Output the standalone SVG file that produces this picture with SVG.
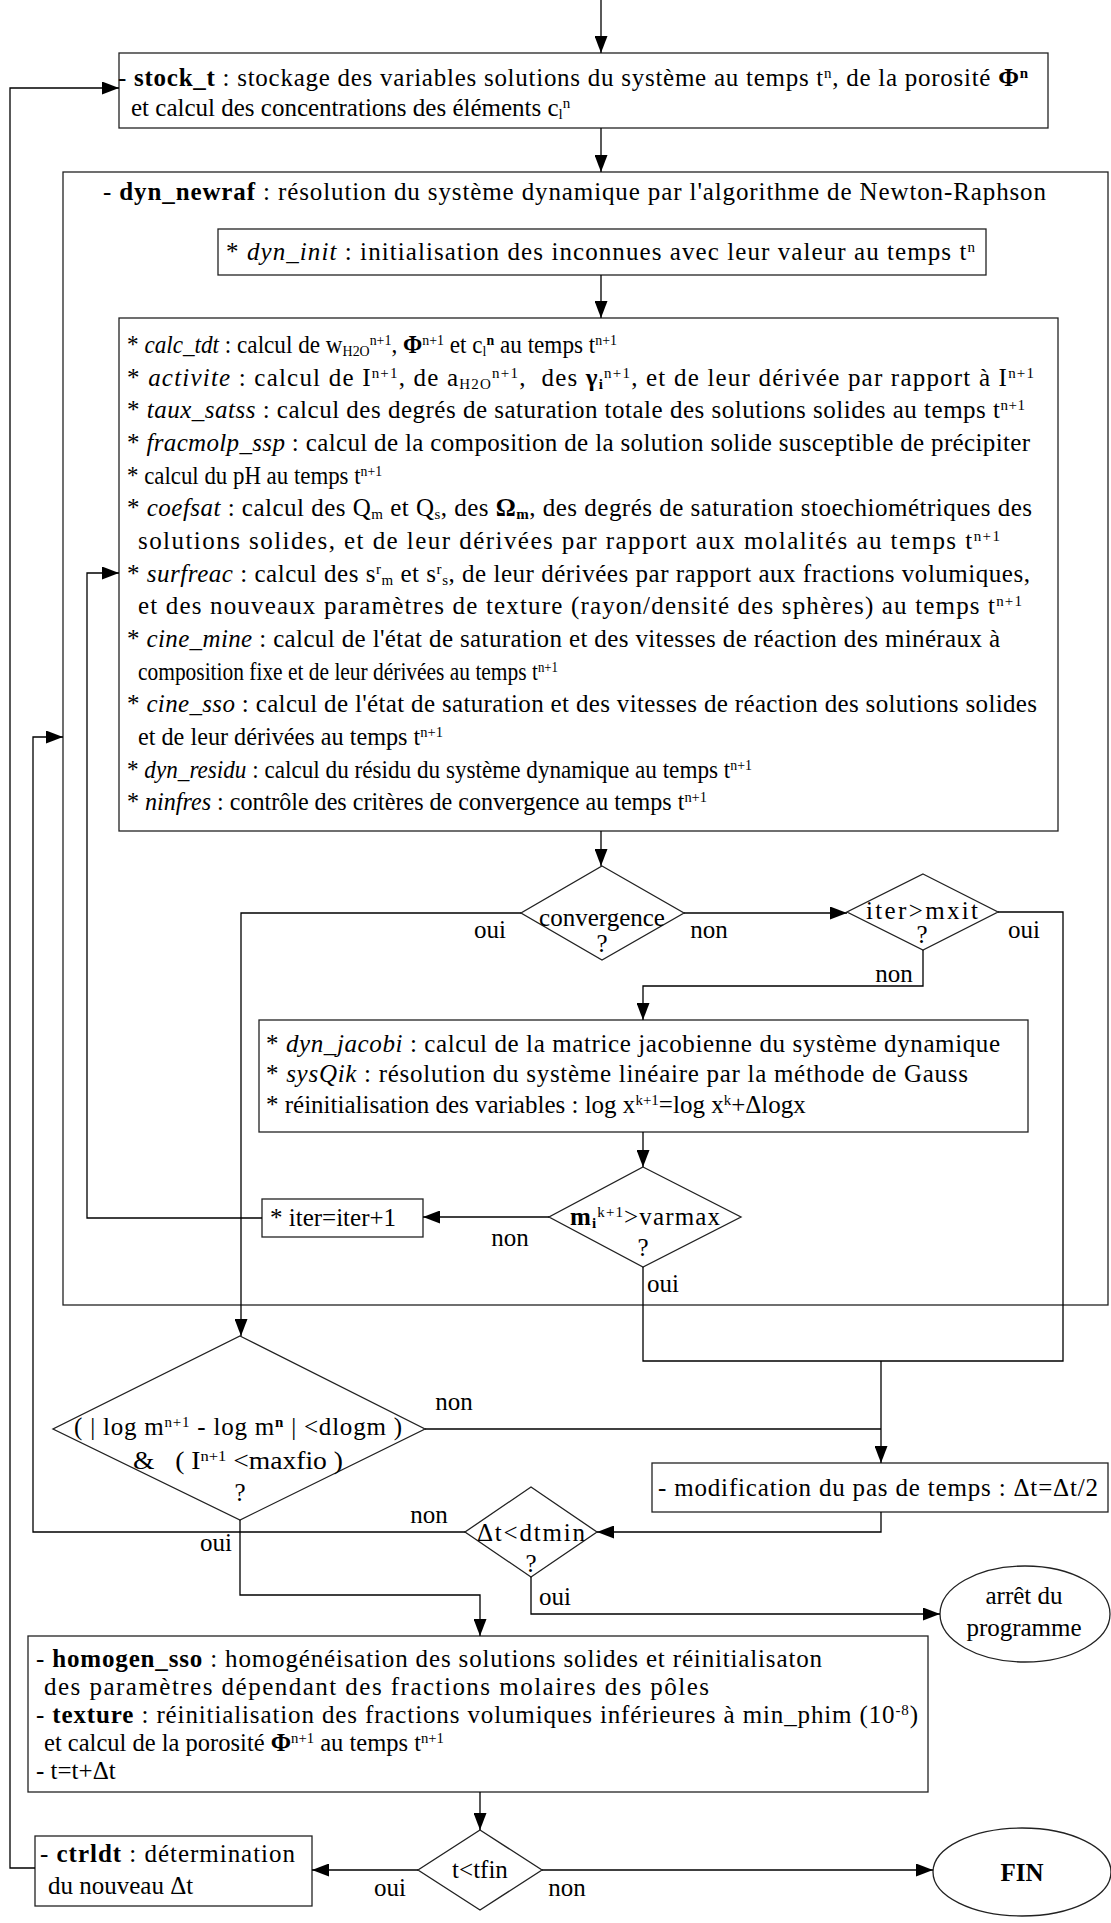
<svg xmlns="http://www.w3.org/2000/svg" width="1111" height="1923" viewBox="0 0 1111 1923">
<style>
text { font-family: "Liberation Serif", "Times New Roman", serif; font-size: 25px; fill: #000; }
.b { font-weight: bold; }
.i { font-style: italic; }
.m { text-anchor: middle; }
.sup { font-size: 15px; baseline-shift: 8px; }
.sub { font-size: 15px; baseline-shift: -3px; }
.box { fill: #fff; stroke: #222; stroke-width: 1.3; }
.ln { fill: none; stroke: #000; stroke-width: 1.3; }
</style>
<defs>
<marker id="ah" markerWidth="17" markerHeight="13" refX="17" refY="6.5" orient="auto" markerUnits="userSpaceOnUse"><path d="M0,0 L17,6.5 L0,13 z" fill="#000"/></marker>
</defs>
<rect width="1111" height="1923" fill="#fff"/>

<g id="n-dyn_newraf">
<rect class="box" x="63" y="172" width="1045" height="1133"/>
<text x="103" y="200" textLength="943" lengthAdjust="spacing">- <tspan class="b">dyn_newraf</tspan> : résolution du système dynamique par l'algorithme de Newton-Raphson</text>
</g>

<g id="n-stock_t">
<rect class="box" x="119" y="53" width="929" height="75"/>
<text x="118" y="86" textLength="910" lengthAdjust="spacing">- <tspan class="b">stock_t</tspan> : stockage des variables solutions du système au temps t<tspan class="sup">n</tspan>, de la porosité <tspan class="b">Φ</tspan><tspan class="sup b">n</tspan></text>
<text x="131" y="116">et calcul des concentrations des éléments c<tspan class="sub">l</tspan><tspan class="sup">n</tspan></text>
</g>

<g id="n-dyn_init">
<rect class="box" x="218" y="229" width="768" height="46"/>
<text x="226" y="260" textLength="749" lengthAdjust="spacing">* <tspan class="i">dyn_init</tspan> : initialisation des inconnues avec leur valeur au temps t<tspan class="sup">n</tspan></text>
</g>

<g id="n-calc">
<rect class="box" x="119" y="318" width="939" height="513"/>
<text x="127" y="353" textLength="490" lengthAdjust="spacingAndGlyphs">* <tspan class="i">calc_tdt</tspan> : calcul de w<tspan class="sub">H2O</tspan><tspan class="sup">n+1</tspan>, <tspan class="b">Φ</tspan><tspan class="sup">n+1</tspan> et c<tspan class="sub">l</tspan><tspan class="sup b">n</tspan> au temps t<tspan class="sup">n+1</tspan></text>
<text x="127" y="386" textLength="907" lengthAdjust="spacing">* <tspan class="i">activite</tspan> : calcul de I<tspan class="sup">n+1</tspan>, de a<tspan class="sub">H2O</tspan><tspan class="sup">n+1</tspan>, &#160;des <tspan class="b">γ</tspan><tspan class="sub b">i</tspan><tspan class="sup">n+1</tspan>, et de leur dérivée par rapport à I<tspan class="sup">n+1</tspan></text>
<text x="127" y="418" textLength="898" lengthAdjust="spacing">* <tspan class="i">taux_satss</tspan> : calcul des degrés de saturation totale des solutions solides au temps t<tspan class="sup">n+1</tspan></text>
<text x="127" y="451" textLength="903" lengthAdjust="spacing">* <tspan class="i">fracmolp_ssp</tspan> : calcul de la composition de la solution solide susceptible de précipiter</text>
<text x="127" y="484" textLength="255" lengthAdjust="spacingAndGlyphs">* calcul du pH au temps t<tspan class="sup">n+1</tspan></text>
<text x="127" y="516" textLength="905" lengthAdjust="spacing">* <tspan class="i">coefsat</tspan> : calcul des Q<tspan class="sub">m</tspan> et Q<tspan class="sub">s</tspan>, des <tspan class="b">Ω</tspan><tspan class="sub b">m</tspan>, des degrés de saturation stoechiométriques des</text>
<text x="138" y="549" textLength="862" lengthAdjust="spacing">solutions solides, et de leur dérivées par rapport aux molalités au temps t<tspan class="sup">n+1</tspan></text>
<text x="127" y="582" textLength="903" lengthAdjust="spacing">* <tspan class="i">surfreac</tspan> : calcul des s<tspan class="sup">r</tspan><tspan class="sub">m</tspan> et s<tspan class="sup">r</tspan><tspan class="sub">s</tspan>, de leur dérivées par rapport aux fractions volumiques,</text>
<text x="138" y="614" textLength="884" lengthAdjust="spacing">et des nouveaux paramètres de texture (rayon/densité des sphères) au temps t<tspan class="sup">n+1</tspan></text>
<text x="127" y="647" textLength="873" lengthAdjust="spacing">* <tspan class="i">cine_mine</tspan> : calcul de l'état de saturation et des vitesses de réaction des minéraux à</text>
<text x="138" y="680" textLength="420" lengthAdjust="spacingAndGlyphs">composition fixe et de leur dérivées au temps t<tspan class="sup">n+1</tspan></text>
<text x="127" y="712" textLength="910" lengthAdjust="spacing">* <tspan class="i">cine_sso</tspan> : calcul de l'état de saturation et des vitesses de réaction des solutions solides</text>
<text x="138" y="745" textLength="305" lengthAdjust="spacingAndGlyphs">et de leur dérivées au temps t<tspan class="sup">n+1</tspan></text>
<text x="127" y="778" textLength="625" lengthAdjust="spacingAndGlyphs">* <tspan class="i">dyn_residu</tspan> : calcul du résidu du système dynamique au temps t<tspan class="sup">n+1</tspan></text>
<text x="127" y="810" textLength="580" lengthAdjust="spacingAndGlyphs">* <tspan class="i">ninfres</tspan> : contrôle des critères de convergence au temps t<tspan class="sup">n+1</tspan></text>
</g>

<g id="n-convergence">
<polygon class="box" points="602,866 684,913 602,960 521,913"/>
<text class="m" x="602" y="926">convergence</text>
<text class="m" x="602" y="952">?</text>
</g>

<g id="n-itermax">
<polygon class="box" points="923,874 998,912 923,950 847,912"/>
<text class="m" x="922" y="919" textLength="112" lengthAdjust="spacing">iter&gt;mxit</text>
<text class="m" x="922" y="943">?</text>
</g>

<g id="n-dyn_jacobi">
<rect class="box" x="259" y="1020" width="769" height="112"/>
<text x="266" y="1052" textLength="734" lengthAdjust="spacing">* <tspan class="i">dyn_jacobi</tspan> : calcul de la matrice jacobienne du système dynamique</text>
<text x="266" y="1082" textLength="702" lengthAdjust="spacing">* <tspan class="i">sysQik</tspan> : résolution du système linéaire par la méthode de Gauss</text>
<text x="266" y="1113">* réinitialisation des variables : log x<tspan class="sup">k+1</tspan>=log x<tspan class="sup">k</tspan>+Δlogx</text>
</g>

<g id="n-varmax">
<polygon class="box" points="643,1167 741,1217 643,1267 549,1217"/>
<text class="m" x="645" y="1225" textLength="150" lengthAdjust="spacing"><tspan class="b">m</tspan><tspan class="sub b">i</tspan><tspan class="sup">k+1</tspan>&gt;varmax</text>
<text class="m" x="643" y="1256">?</text>
</g>

<g id="n-iter">
<rect class="box" x="262" y="1199" width="161" height="38"/>
<text x="270" y="1226">* iter=iter+1</text>
</g>

<g id="n-dlogm">
<polygon class="box" points="240,1336 425,1429 240,1520 53,1429"/>
<text class="m" x="238" y="1435" textLength="328" lengthAdjust="spacing">( | log m<tspan class="sup">n+1</tspan> - log m<tspan class="sup b">n</tspan> | &lt;dlogm )</text>
<text class="m" x="238" y="1469" textLength="210" lengthAdjust="spacingAndGlyphs">&amp; &#160;&#160;( I<tspan class="sup">n+1</tspan> &lt;maxfio )</text>
<text class="m" x="240" y="1501">?</text>
</g>

<g id="n-modif">
<rect class="box" x="652" y="1463" width="456" height="49"/>
<text x="658" y="1496" textLength="440" lengthAdjust="spacing">- modification du pas de temps : Δt=Δt/2</text>
</g>

<g id="n-dtmin">
<polygon class="box" points="531,1487 597,1532 531,1577 465,1532"/>
<text class="m" x="531" y="1541" textLength="108" lengthAdjust="spacing">Δt&lt;dtmin</text>
<text class="m" x="531" y="1572">?</text>
</g>

<g id="n-arret">
<ellipse class="box" cx="1025" cy="1614" rx="85" ry="48"/>
<text class="m" x="1024" y="1604">arrêt du</text>
<text class="m" x="1024" y="1636">programme</text>
</g>

<g id="n-homogen">
<rect class="box" x="28" y="1636" width="900" height="156"/>
<text x="36" y="1667" textLength="786" lengthAdjust="spacing">- <tspan class="b">homogen_sso</tspan> : homogénéisation des solutions solides et réinitialisaton</text>
<text x="44" y="1695" textLength="665" lengthAdjust="spacing">des paramètres dépendant des fractions molaires des pôles</text>
<text x="36" y="1723" textLength="882" lengthAdjust="spacing">- <tspan class="b">texture</tspan> : réinitialisation des fractions volumiques inférieures à min_phim (10<tspan class="sup">-8</tspan>)</text>
<text x="44" y="1751" textLength="400" lengthAdjust="spacingAndGlyphs">et calcul de la porosité <tspan class="b">Φ</tspan><tspan class="sup">n+1</tspan> au temps t<tspan class="sup">n+1</tspan></text>
<text x="36" y="1779">- t=t+Δt</text>
</g>

<g id="n-tfin">
<polygon class="box" points="480,1830 542,1870 480,1910 418,1870"/>
<text class="m" x="480" y="1878">t&lt;tfin</text>
</g>

<g id="n-ctrldt">
<rect class="box" x="35" y="1836" width="277" height="70"/>
<text x="40" y="1862" textLength="255" lengthAdjust="spacing">- <tspan class="b">ctrldt</tspan> : détermination</text>
<text x="48" y="1894">du nouveau Δt</text>
</g>

<g id="n-fin">
<ellipse class="box" cx="1022" cy="1872" rx="89" ry="44"/>
<text class="m b" x="1022" y="1881">FIN</text>
</g>

<g id="connectors">
<path class="ln" d="M601,0 V53" marker-end="url(#ah)"/>
<path class="ln" d="M601,128 V172" marker-end="url(#ah)"/>
<path class="ln" d="M601,275 V318" marker-end="url(#ah)"/>
<path class="ln" d="M601,831 V866" marker-end="url(#ah)"/>
<path class="ln" d="M521,913 H241 V1336" marker-end="url(#ah)"/>
<path class="ln" d="M684,913 H847" marker-end="url(#ah)"/>
<path class="ln" d="M998,912 H1063 V1361 H643 V1267"/>
<path class="ln" d="M881,1361 V1463" marker-end="url(#ah)"/>
<path class="ln" d="M923,950 V986 H643 V1020" marker-end="url(#ah)"/>
<path class="ln" d="M643,1132 V1167" marker-end="url(#ah)"/>
<path class="ln" d="M549,1217 H423" marker-end="url(#ah)"/>
<path class="ln" d="M262,1218 H87 V573 H119" marker-end="url(#ah)"/>
<path class="ln" d="M425,1429 H881"/>
<path class="ln" d="M881,1512 V1532 H597" marker-end="url(#ah)"/>
<path class="ln" d="M465,1532 H33 V737 H63" marker-end="url(#ah)"/>
<path class="ln" d="M240,1520 V1595 H480 V1636" marker-end="url(#ah)"/>
<path class="ln" d="M531,1577 V1614 H940" marker-end="url(#ah)"/>
<path class="ln" d="M480,1792 V1830" marker-end="url(#ah)"/>
<path class="ln" d="M418,1870 H312" marker-end="url(#ah)"/>
<path class="ln" d="M542,1870 H933" marker-end="url(#ah)"/>
<path class="ln" d="M35,1868 H10 V88 H119" marker-end="url(#ah)"/>
</g>

<g id="labels">
<text class="m" x="490" y="938">oui</text>
<text class="m" x="709" y="938">non</text>
<text class="m" x="1024" y="938">oui</text>
<text class="m" x="894" y="982">non</text>
<text class="m" x="510" y="1246">non</text>
<text class="m" x="663" y="1292">oui</text>
<text class="m" x="454" y="1410">non</text>
<text class="m" x="429" y="1523">non</text>
<text class="m" x="216" y="1551">oui</text>
<text class="m" x="555" y="1605">oui</text>
<text class="m" x="390" y="1896">oui</text>
<text class="m" x="567" y="1896">non</text>
</g>
</svg>
